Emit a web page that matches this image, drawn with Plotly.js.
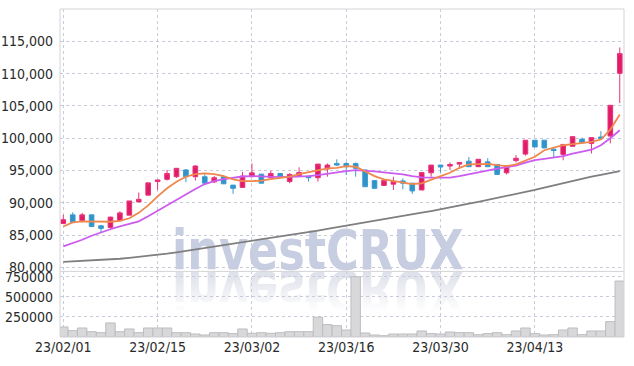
<!DOCTYPE html>
<html>
<head>
<meta charset="utf-8">
<script src="https://cdn.plot.ly/plotly-3.0.1.min.js"></script>
<style>
  html, body { margin:0; padding:0; background:#ffffff; }
  #wrap { position:relative; width:634px; height:366px; overflow:hidden; }
  #wm { position:absolute; left:172px; top:221px; font-family:'DejaVu Sans Condensed','DejaVu Sans',sans-serif; font-weight:bold; font-size:55px; line-height:58px; color:#c8cee1; white-space:nowrap; transform:scaleX(0.9); transform-origin:0 0; }
  #wmr { position:absolute; left:172px; top:272px; height:40px; width:320px; overflow:hidden;
         -webkit-mask-image:linear-gradient(to bottom, rgba(0,0,0,0.85), rgba(0,0,0,0));
         mask-image:linear-gradient(to bottom, rgba(0,0,0,0.85), rgba(0,0,0,0)); }
  #wmr div { position:absolute; left:0; top:-48px; font-family:'DejaVu Sans Condensed','DejaVu Sans',sans-serif; font-weight:bold; font-size:55px; line-height:58px; color:#d8dbe6; white-space:nowrap; transform:scaleX(0.9) scaleY(-1); transform-origin:0 48px; }
  #chart { position:absolute; left:0; top:0; width:634px; height:366px; }
</style>
</head>
<body>
<div id="wrap">
  <div id="wm">investCRUX</div>
  <div id="wmr"><div>investCRUX</div></div>
  <div id="chart"></div>
</div>
<script>
const dates = ['23/02/01','23/02/02','23/02/03','23/02/06','23/02/07','23/02/08','23/02/09','23/02/10','23/02/13','23/02/14',
  '23/02/15','23/02/16','23/02/17','23/02/20','23/02/21','23/02/22','23/02/23','23/02/24','23/02/27','23/02/28',
  '23/03/02','23/03/03','23/03/06','23/03/07','23/03/08','23/03/09','23/03/10','23/03/13','23/03/14','23/03/15',
  '23/03/16','23/03/17','23/03/20','23/03/21','23/03/22','23/03/23','23/03/24','23/03/27','23/03/28','23/03/29',
  '23/03/30','23/03/31','23/04/03','23/04/04','23/04/05','23/04/06','23/04/07','23/04/10','23/04/11','23/04/12',
  '23/04/13','23/04/14','23/04/17','23/04/18','23/04/19','23/04/20','23/04/21','23/04/24','23/04/25','23/04/26'];

const openP = [86800,88150,87250,88150,86450,86200,87250,88100,90150,91200,
  93300,93650,94050,95100,94050,94050,93250,94050,92750,92400,
  94050,94450,93900,94550,93300,94200,94150,93900,95250,96100,
  96100,96100,95100,93450,92700,92900,93400,93050,92000,94650,
  95850,95700,96000,96450,95600,96350,95950,94650,96550,97550,
  99700,99700,98300,97500,98750,99850,99200,100200,100350,110050];
const highP = [88150,88550,88450,88150,86600,87850,88700,90300,91600,93100,
  93550,95100,95400,95250,95850,94400,94150,94300,92750,94800,
  96100,94450,95000,94550,94600,95500,94150,96000,96100,96750,
  96300,96250,95100,93450,93450,94050,93800,93050,94700,95850,
  95850,96250,96250,97100,96750,96900,95950,95750,97400,99700,
  99700,99700,98650,99050,100250,100100,100100,101100,105100,114050];
const lowP = [86750,86950,87000,86350,85350,86000,87250,88100,90150,91200,
  92000,93450,93850,93200,93450,92750,93050,92950,91400,92400,
  94050,93050,93650,93800,93050,94200,93300,93300,94050,95700,
  94300,94050,92500,92250,92700,92000,92100,91400,92000,94050,
  94700,95100,95250,95600,95600,95600,94400,94400,96250,97300,
  98650,98500,97100,96600,98750,99300,97650,99950,99200,105450];
const closeP = [87400,86950,88150,86350,86050,87800,88450,90300,90550,93100,
  93550,94550,95350,94050,95700,93050,93900,92950,92250,94150,
  94650,93050,94550,94050,94400,94700,93900,96000,95850,95850,
  95600,95350,92500,92250,93450,93300,93050,91850,94700,95850,
  95550,95950,96250,95600,96750,95600,94400,95750,96900,99700,
  98650,98500,98100,99050,100250,99300,100100,99950,105100,113100];
const volume = [125000,79000,112000,66000,54000,175000,66000,100000,54000,112000,
  112000,112000,54000,54000,37000,25000,54000,54000,42000,100000,
  46000,54000,46000,54000,66000,66000,66000,246000,154000,141000,
  87000,750000,50000,25000,16000,37000,37000,37000,75000,42000,
  37000,62000,54000,54000,29000,42000,54000,29000,75000,112000,
  42000,25000,29000,87000,112000,29000,75000,75000,191000,696000];
const ma5 = [86350,86970,87150,87100,87080,87080,87230,87620,88460,89620,
  91000,92260,93280,94050,94460,94570,94460,94150,93650,93380,
  93380,93430,93690,93890,94050,94460,94720,95080,95340,95430,
  95690,95590,94820,94150,93650,93380,93120,92920,93030,93650,
  94150,94660,95430,95950,96000,96050,95850,95690,95950,96510,
  97130,98150,98570,98920,99080,99280,99430,99800,101340,103690];
const ma20 = [83280,83770,84300,84920,85460,85920,86380,86770,87150,87920,
  88770,89690,90460,91380,92150,92920,93380,93690,93920,94080,
  94150,94080,94000,94000,94030,94080,94150,94310,94540,94770,
  94920,95080,95030,94880,94720,94620,94420,94150,93950,93920,
  93920,93920,94150,94460,94770,95030,95310,95540,95770,96230,
  96620,96820,97030,97230,97620,97920,98230,98920,100000,101230];
const ma120 = [80880,80950,81020,81090,81160,81230,81360,81500,81640,81780,
  81920,82140,82350,82570,82780,83000,83220,83430,83650,83860,
  84080,84310,84540,84770,85000,85230,85480,85720,85970,86210,
  86460,86710,86950,87200,87440,87690,87950,88220,88480,88740,
  89000,89290,89580,89880,90170,90460,90770,91080,91380,91690,
  92000,92350,92710,93060,93420,93770,94060,94350,94630,94920];
const tickDates = ['23/02/01','23/02/15','23/03/02','23/03/16','23/03/30','23/04/13'];
const priceTicks = [80000,85000,90000,95000,100000,105000,110000,115000];
const volTicks = [250000,500000,750000];

const fam = "'DejaVu Sans Condensed','DejaVu Sans',sans-serif";
const tickFont = {family:fam, size:14, color:'#2a2a2a'};

const traces = [
  {type:'bar', x:dates, y:volume, xaxis:'x', yaxis:'y2',
   marker:{color:'#d8d8da', line:{color:'#bdbdc0', width:1}}, hoverinfo:'skip'},
  {type:'candlestick', x:dates, open:openP, high:highP, low:lowP, close:closeP, xaxis:'x', yaxis:'y',
   increasing:{line:{color:'#e8327a', width:1}, fillcolor:'#e01c68'},
   decreasing:{line:{color:'#3a9ad0', width:1}, fillcolor:'#2e93c9'}, hoverinfo:'skip'},
  {type:'scatter', mode:'lines', x:dates, y:ma120, xaxis:'x', yaxis:'y', line:{color:'#7f7f7f', width:1.8}, hoverinfo:'skip'},
  {type:'scatter', mode:'lines', x:dates, y:ma20, xaxis:'x', yaxis:'y', line:{color:'#cc5cf0', width:1.8}, hoverinfo:'skip'},
  {type:'scatter', mode:'lines', x:dates, y:ma5, xaxis:'x', yaxis:'y', line:{color:'#f0884e', width:1.8}, hoverinfo:'skip'}
];

const layout = {
  width:634, height:366,
  margin:{l:60, r:10, t:9, b:29},
  paper_bgcolor:'rgba(0,0,0,0)', plot_bgcolor:'rgba(0,0,0,0)',
  showlegend:false, hovermode:false, bargap:0,
  xaxis:{type:'category', anchor:'y2', range:[-0.35,59.45], tickvals:tickDates, ticktext:tickDates,
    showgrid:true, gridcolor:'#c9ccd8', griddash:'dot', gridwidth:1, showline:false, zeroline:false,
    ticks:'', tickfont:{family:fam, size:14, color:'#2a2a2a'}, rangeslider:{visible:false}},
  yaxis:{domain:[0.2,1], range:[79400,120000], tickvals:priceTicks, tickformat:',d',
    showgrid:true, gridcolor:'#c9ccd8', griddash:'dot', gridwidth:1, zeroline:false, showline:false,
    ticks:'', ticklabelstandoff:6, tickfont:tickFont},
  yaxis2:{domain:[0,0.2], range:[0,816000], tickvals:volTicks, tickformat:'d',
    showgrid:true, gridcolor:'#c9ccd8', griddash:'dot', gridwidth:1, zeroline:false, showline:false,
    ticks:'', ticklabelstandoff:6, tickfont:tickFont},
  shapes:[
    {type:'rect', xref:'paper', yref:'paper', x0:0, x1:1, y0:0, y1:1, line:{color:'#d4d4d8', width:1}},
    {type:'line', xref:'paper', yref:'paper', x0:0, x1:1, y0:0.2, y1:0.2, line:{color:'#d4d4d8', width:1}}
  ]
};

Plotly.newPlot('chart', traces, layout, {staticPlot:true, displayModeBar:false});
</script>
</body>
</html>
